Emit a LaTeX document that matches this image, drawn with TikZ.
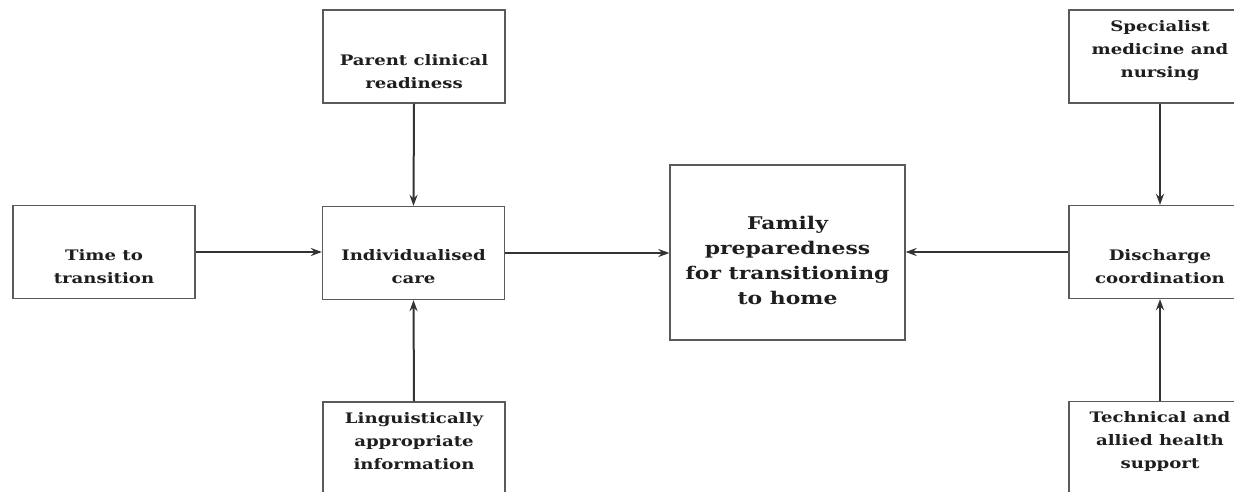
\documentclass[tikz,border=0pt]{standalone}
\usepackage{fontspec}
\setmainfont[FakeStretch=1.25]{DejaVu Serif}
\usetikzlibrary{arrows.meta}
\definecolor{boxline}{HTML}{5A5A5A}
\definecolor{arrowline}{HTML}{333333}
\definecolor{txt}{HTML}{1E1E1E}
\begin{document}
\begin{tikzpicture}[x=1pt,y=-1pt,
  box/.style={draw=boxline,line width=1.3pt,minimum width=182pt,minimum height=93pt},
  bigbox/.style={box,minimum width=235pt,minimum height=175pt},
  tx/.style={align=center,inner sep=0pt,text=txt,font=\bfseries\fontsize{14.5}{23}\selectfont},
  bigtx/.style={tx,font=\bfseries\fontsize{17.5}{25}\selectfont},
  link/.style={draw=arrowline,line width=2pt,-{Stealth[length=11pt,width=8pt]}}]
\useasboundingbox (0,0) rectangle (1234,492);
\fill[white] (0,0) rectangle (1234,492);

% left-hand column of inputs
\node[box] (time) at (104,252) {};
\node[tx] (time-t) at ([yshift=-15pt]time.center) {Time to\\transition};
\node[box] (parent) at (414,56.5) {};
\node[tx] (parent-t) at ([yshift=-15pt]parent.center) {Parent clinical\\readiness};
\node[box] (indiv) at (413.5,253) {};
\node[tx] (indiv-t) at ([yshift=-14pt]indiv.center) {Individualised\\care};
\node[box] (ling) at (414,448.5) {};
\node[tx] (ling-t) at ([yshift=7pt]ling.center) {Linguistically\\appropriate\\information};

% outcome
\node[bigbox] (family) at (787.5,252.5) {};
\node[bigtx] (family-t) at ([yshift=-8pt]family.center) {Family\\preparedness\\for transitioning\\to home};

% right-hand column of inputs
\node[box] (spec) at (1160,56.5) {};
\node[tx] (spec-t) at ([yshift=6pt]spec.center) {Specialist\\medicine and\\nursing};
\node[box] (disch) at (1160,252) {};
\node[tx] (disch-t) at ([yshift=-15pt]disch.center) {Discharge\\coordination};
\node[box] (tech) at (1160,448) {};
\node[tx] (tech-t) at ([yshift=7pt]tech.center) {Technical and\\allied health\\support};

% connectors
\draw[link] (time.east) -- (indiv.west |- time.east);
\draw[link] (parent.south) -- (indiv.north);
\draw[link] (ling.north) -- (indiv.south);
\draw[link] (indiv.east) -- (family.west |- indiv.east);
\draw[link] (spec.south) -- (disch.north);
\draw[link] (tech.north) -- (disch.south);
\draw[link] (disch.west) -- (family.east |- disch.west);
\end{tikzpicture}
\end{document}
